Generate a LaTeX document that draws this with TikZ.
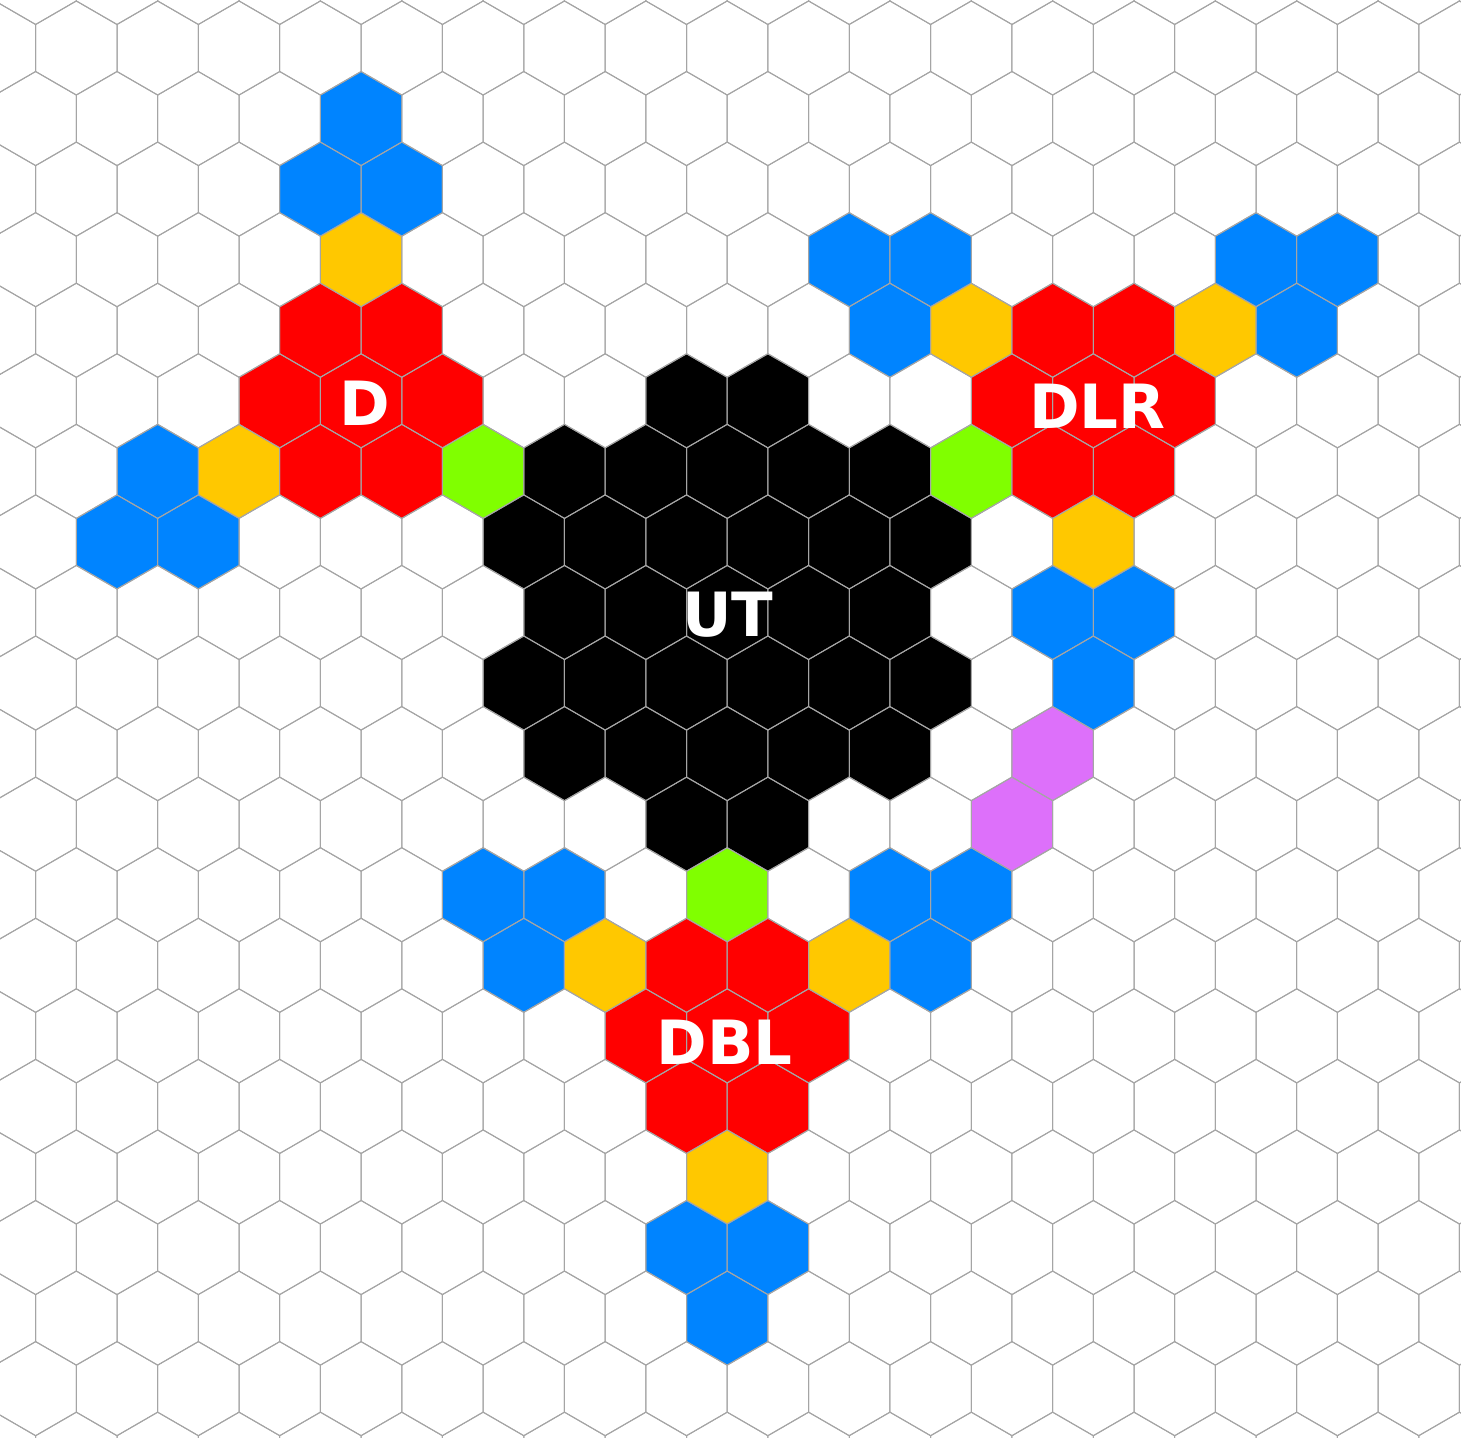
\documentclass[tikz,border=0pt]{standalone}
\usepackage{fontspec}
\setmainfont{DejaVu Sans}
\definecolor{hexblue}{RGB}{0,132,255}
\definecolor{hexyellow}{RGB}{255,200,0}
\definecolor{hexred}{RGB}{255,0,0}
\definecolor{hexgreen}{RGB}{128,255,0}
\definecolor{hexpurple}{RGB}{221,112,250}
\definecolor{hexblack}{RGB}{0,0,0}
\definecolor{hexline}{RGB}{165,165,165}
% #1 = row, #2 = column, #3 = fill colour / draw options
\newcommand{\hexcell}[3]{%
  \pgfmathsetmacro{\hcx}{76.32+81.36*#2+40.68*mod(#1+2,2)}%
  \pgfmathsetmacro{\hcy}{48+70.56*#1}%
  \path[#3] (\hcx,\hcy) ++(0,-47.04) -- ++(40.68,23.52) -- ++(0,47.04)
     -- ++(-40.68,23.52) -- ++(-40.68,-23.52) -- ++(0,-47.04) -- cycle;}
\tikzset{
  gridline/.style={draw=hexline, line width=1pt, line join=miter},
  lbl/.style={text=white, inner sep=0pt, font=\fontsize{61}{61}\selectfont\bfseries},
}
\begin{document}
\begin{tikzpicture}[x=1pt, y=-1pt]
\useasboundingbox (0,0) rectangle (1461,1437);
\fill[white] (0,0) rectangle (1461,1437);
\begin{scope}
\clip (0,0) rectangle (1461,1437);
% ---- group D (top left)
\hexcell{1}{3}{fill=hexblue}
\hexcell{2}{3}{fill=hexblue}
\hexcell{2}{4}{fill=hexblue}
\hexcell{3}{3}{fill=hexyellow}
\hexcell{4}{3}{fill=hexred}
\hexcell{4}{4}{fill=hexred}
\hexcell{5}{2}{fill=hexred}
\hexcell{5}{3}{fill=hexred}
\hexcell{5}{4}{fill=hexred}
\hexcell{6}{1}{fill=hexblue}
\hexcell{6}{2}{fill=hexyellow}
\hexcell{6}{3}{fill=hexred}
\hexcell{6}{4}{fill=hexred}
\hexcell{6}{5}{fill=hexgreen}
\hexcell{7}{0}{fill=hexblue}
\hexcell{7}{1}{fill=hexblue}
% ---- group UT (black, centre)
\hexcell{5}{7}{fill=hexblack}
\hexcell{5}{8}{fill=hexblack}
\foreach \c in {6,...,10} {\hexcell{6}{\c}{fill=hexblack}}
\foreach \c in {5,...,10} {\hexcell{7}{\c}{fill=hexblack}}
\foreach \c in {6,...,10} {\hexcell{8}{\c}{fill=hexblack}}
\foreach \c in {5,...,10} {\hexcell{9}{\c}{fill=hexblack}}
\foreach \c in {6,...,10} {\hexcell{10}{\c}{fill=hexblack}}
\hexcell{11}{7}{fill=hexblack}
\hexcell{11}{8}{fill=hexblack}
% ---- group DLR (top right)
\hexcell{3}{9}{fill=hexblue}
\hexcell{3}{10}{fill=hexblue}
\hexcell{3}{14}{fill=hexblue}
\hexcell{3}{15}{fill=hexblue}
\hexcell{4}{10}{fill=hexblue}
\hexcell{4}{11}{fill=hexyellow}
\hexcell{4}{12}{fill=hexred}
\hexcell{4}{13}{fill=hexred}
\hexcell{4}{14}{fill=hexyellow}
\hexcell{4}{15}{fill=hexblue}
\hexcell{5}{11}{fill=hexred}
\hexcell{5}{12}{fill=hexred}
\hexcell{5}{13}{fill=hexred}
\hexcell{6}{11}{fill=hexgreen}
\hexcell{6}{12}{fill=hexred}
\hexcell{6}{13}{fill=hexred}
\hexcell{7}{12}{fill=hexyellow}
\hexcell{8}{12}{fill=hexblue}
\hexcell{8}{13}{fill=hexblue}
\hexcell{9}{12}{fill=hexblue}
\hexcell{10}{12}{fill=hexpurple}
\hexcell{11}{11}{fill=hexpurple}
\hexcell{12}{10}{fill=hexblue}
\hexcell{12}{11}{fill=hexblue}
% ---- group DBL (bottom)
\hexcell{12}{5}{fill=hexblue}
\hexcell{12}{6}{fill=hexblue}
\hexcell{12}{8}{fill=hexgreen}
\hexcell{13}{5}{fill=hexblue}
\hexcell{13}{6}{fill=hexyellow}
\hexcell{13}{7}{fill=hexred}
\hexcell{13}{8}{fill=hexred}
\hexcell{13}{9}{fill=hexyellow}
\hexcell{13}{10}{fill=hexblue}
\hexcell{14}{7}{fill=hexred}
\hexcell{14}{8}{fill=hexred}
\hexcell{14}{9}{fill=hexred}
\hexcell{15}{7}{fill=hexred}
\hexcell{15}{8}{fill=hexred}
\hexcell{16}{8}{fill=hexyellow}
\hexcell{17}{7}{fill=hexblue}
\hexcell{17}{8}{fill=hexblue}
\hexcell{18}{8}{fill=hexblue}
% ---- grid
\foreach \r in {-1,...,20} {
  \foreach \c in {-1,...,18} {
    \hexcell{\r}{\c}{gridline}
  }
}
\end{scope}
% ---- labels
\node[lbl] (labD)   at (364.5,403.3)  {D};
\node[lbl] (labDLR) at (1097.5,406.7) {DLR};
\node[lbl] (labUT)  at (728,614.5)    {UT};
\node[lbl] (labDBL) at (724.5,1042)   {DBL};
\end{tikzpicture}
\end{document}
